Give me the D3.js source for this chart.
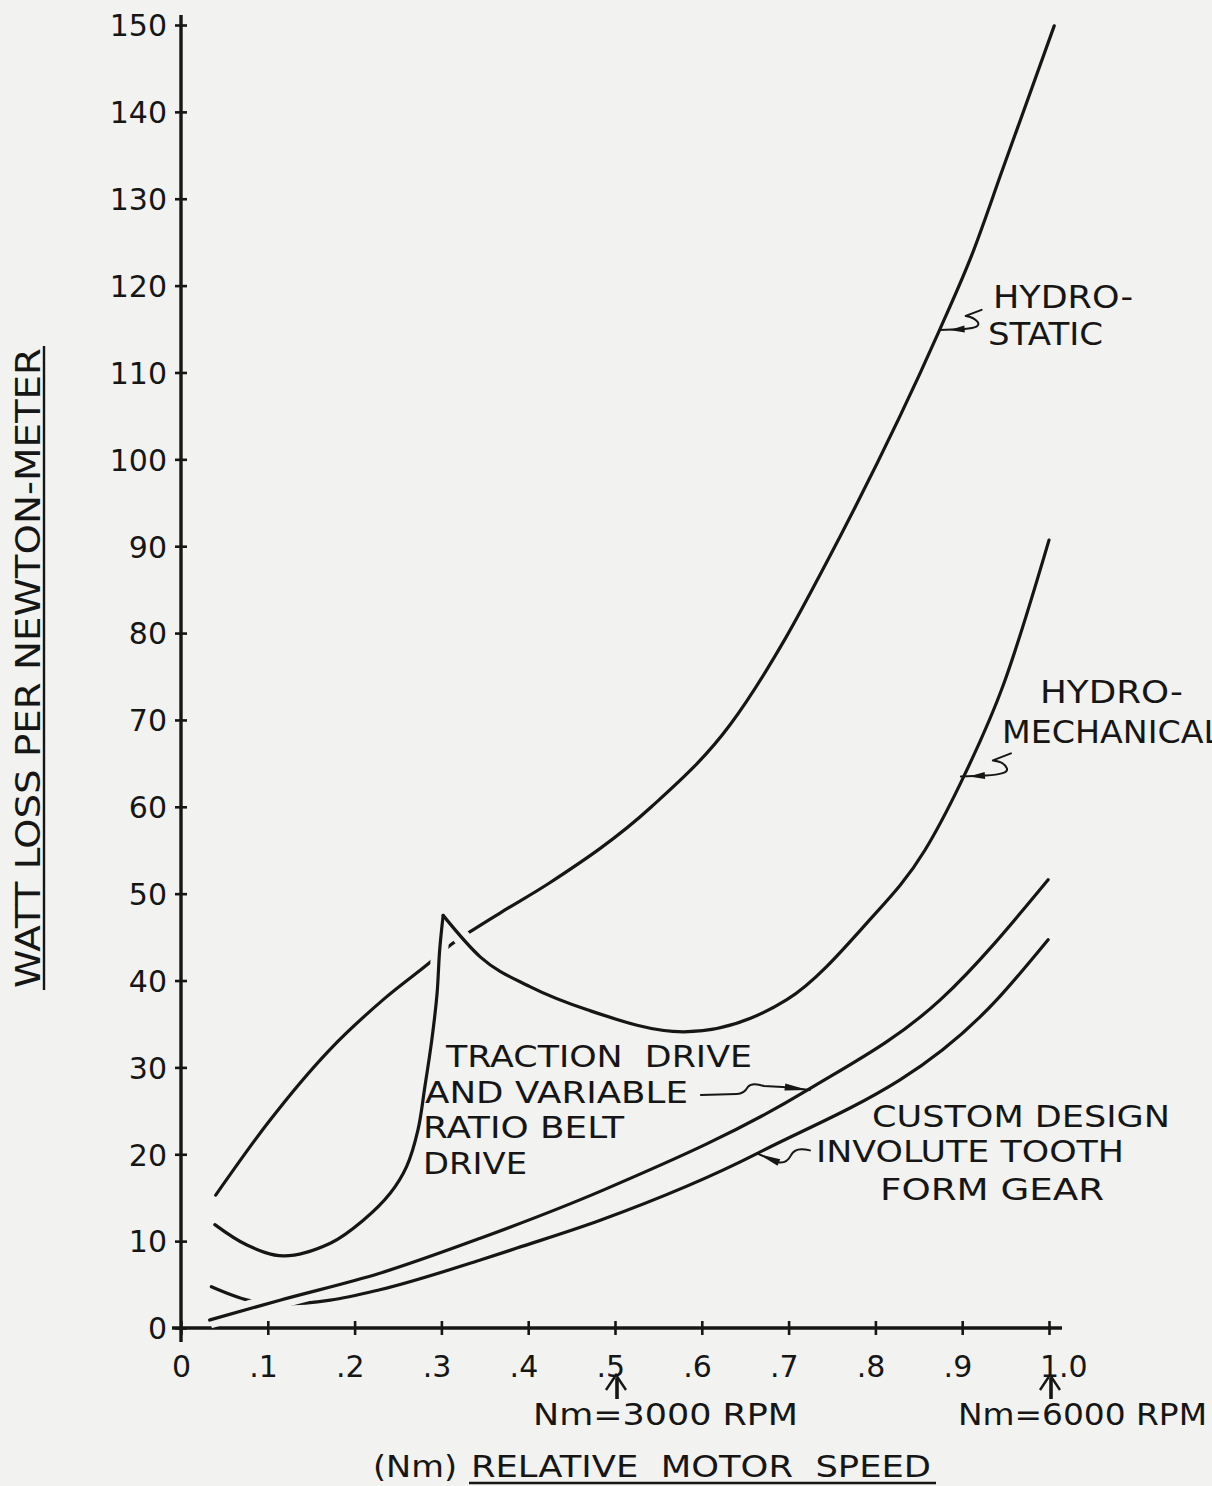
<!DOCTYPE html>
<html><head><meta charset="utf-8">
<script src="https://cdn.jsdelivr.net/npm/d3@7"></script>
<style>
html,body{margin:0;padding:0;background:#f2f2f0;}
svg{display:block;}
text{font-family:"DejaVu Sans",sans-serif;fill:#161616;white-space:pre;}
</style></head><body>
<svg id="chart" width="1212" height="1486"></svg>
<script>
// ---------- data ----------
const yTicks = [0,10,20,30,40,50,60,70,80,90,100,110,120,130,140,150];
const xTicks = [0,0.1,0.2,0.3,0.4,0.5,0.6,0.7,0.8,0.9,1.0];
const xTickLabels = ["0",".1",".2",".3",".4",".5",".6",".7",".8",".9","1.0"];

// Hydrostatic
const hydrostaticX = [0.040,0.100,0.171,0.233,0.287,0.312,0.336,0.368,0.424,0.542,0.633,0.697,0.742,0.874,0.911,0.947,1.006];
const hydrostaticY = [15.3,23.6,32.0,37.8,42.1,44.2,45.8,47.8,51.2,60.0,69.5,79.5,87.8,114.9,123.5,133.5,149.9];

// Hydro-mechanical: low-speed branch (up to the mode shift) and high-speed branch
const hydroMechLowX = [0.039,0.076,0.118,0.172,0.210,0.241,0.260,0.273,0.281,0.289,0.295,0.298,0.302];
const hydroMechLowY = [11.9,9.55,8.3,9.75,12.4,15.5,18.6,22.8,27.8,33.2,38.5,43.5,47.5];
const hydroMechHighX = [0.302,0.345,0.402,0.469,0.579,0.698,0.789,0.857,0.898,0.948,1.000];
const hydroMechHighY = [47.5,42.7,39.3,36.6,34.1,37.8,46.5,55.0,62.7,74.2,90.7];

// Traction drive and variable ratio belt drive
const tractionX = [0.033,0.114,0.229,0.344,0.487,0.722,0.875,0.999];
const tractionY = [0.92,3.2,6.3,10.3,15.9,27.4,37.8,51.6];

// Custom design involute tooth form gear
const gearX = [0.035,0.085,0.118,0.172,0.229,0.344,0.387,0.483,0.664,0.940,0.999];
const gearY = [4.75,3.03,2.76,3.2,4.4,7.8,9.2,12.4,20.1,37.8,44.7];

// ---------- chart ----------
const ink = "#161616", bg = "#f2f2f0";
const svg = d3.select("#chart");
const X0 = 181, X1 = 1049, Y0 = 1328, Y1 = 25;
const x = d3.scaleLinear().domain([0,1]).range([X0,X1]);
const y = d3.scaleLinear().domain([0,150]).range([Y0,Y1]);

// axis lines
svg.append("line").attr("x1",X0).attr("x2",X0).attr("y1",15).attr("y2",1342)
  .attr("stroke",ink).attr("stroke-width",3.4);
svg.append("line").attr("x1",172).attr("x2",1062).attr("y1",Y0).attr("y2",Y0)
  .attr("stroke",ink).attr("stroke-width",3.4);

// y axis
const gy = svg.append("g").attr("transform",`translate(${X0},0)`)
  .call(d3.axisLeft(y).tickValues(yTicks).tickSize(5).tickFormat(d3.format("d")));
gy.select(".domain").remove();
gy.selectAll(".tick line").attr("x1",-6).attr("x2",6).attr("stroke",ink).attr("stroke-width",2.6);
gy.selectAll(".tick text").attr("font-size",30).attr("font-family","DejaVu Sans")
  .attr("fill",ink).attr("x",-14).attr("dy","0.36em");

// x axis
const gx = svg.append("g").attr("transform",`translate(0,${Y0})`)
  .call(d3.axisBottom(x).tickValues(xTicks).tickSize(6).tickFormat((d,i)=>xTickLabels[i]));
gx.select(".domain").remove();
gx.selectAll(".tick line").attr("y1",-7).attr("y2",7).attr("stroke",ink).attr("stroke-width",2.6);
gx.selectAll(".tick text").attr("font-size",30).attr("font-family","DejaVu Sans")
  .attr("fill",ink).attr("y",49).attr("dy",0).attr("text-anchor","start")
  .each(function(d,i){
    const s = xTickLabels[i];
    const k = s.search(/[0-9]/);
    const pre = k>0 ? this.getSubStringLength(0,k) : 0;
    const w = this.getSubStringLength(k,1);
    d3.select(this).attr("x", -pre - w/2);
  });

// curves
const smooth = d3.line().x(d=>x(d[0])).y(d=>y(d[1])).curve(d3.curveMonotoneX);
const sharp = d3.line().x(d=>x(d[0])).y(d=>y(d[1])).curve(d3.curveCatmullRom.alpha(0.5));
const pts = (xs,ys)=>xs.map((v,i)=>[v,ys[i]]);
const plain = [[pts(hydrostaticX,hydrostaticY),smooth], [pts(gearX,gearY),smooth]];
const haloed = [[pts(hydroMechLowX,hydroMechLowY),sharp], [pts(hydroMechHighX,hydroMechHighY),smooth], [pts(tractionX,tractionY),smooth]];
plain.forEach(([p,gen])=>svg.append("path").attr("d",gen(p)).attr("fill","none")
  .attr("stroke",ink).attr("stroke-width",3.2).attr("stroke-linecap","round"));
haloed.forEach(([p,gen])=>svg.append("path").attr("d",gen(p)).attr("fill","none")
  .attr("stroke",bg).attr("stroke-width",17).attr("stroke-linecap","butt"));
haloed.forEach(([p,gen])=>svg.append("path").attr("d",gen(p)).attr("fill","none")
  .attr("stroke",ink).attr("stroke-width",3.2).attr("stroke-linecap","round"));

// labels
function label(t, lx, ly, len, size){
  svg.append("text").attr("x",lx).attr("y",ly).attr("font-size",size||31.5)
    .attr("textLength",len).attr("lengthAdjust","spacingAndGlyphs").text(t);
}
const labels = [
  ["HYDRO-",993,308,140,31.5],["STATIC",988,345,115,31.5],
  ["HYDRO-",1040,703,143,31.5],["MECHANICAL",1002,743,220,31.5],
  ["TRACTION  DRIVE",446,1067,306,30],["AND VARIABLE",425,1103,263,30],
  ["RATIO BELT",423,1138,201,30],["DRIVE",423,1174,104,30],
  ["CUSTOM DESIGN",872,1127,298,31],["INVOLUTE TOOTH",816,1162,308,31],["FORM GEAR",880,1200,224,31]
];
labels.forEach(l=>label(l[0],l[1],l[2],l[3],l[4]));

// leaders (arrows pointing at curves)
function leader(ax, ay, d, wedge){
  const px = x(ax), py = y(ay);
  const g = svg.append("g").attr("transform",`translate(${px},${py})`);
  g.append("path").attr("d",d).attr("fill","none").attr("stroke",ink).attr("stroke-width",2)
    .attr("stroke-linecap","round").attr("stroke-linejoin","round");
  const [tx,ty,bx,by] = wedge;
  const ang = Math.atan2(by-ty,bx-tx), nx = -Math.sin(ang)*3.5, ny = Math.cos(ang)*3.5;
  g.append("path").attr("d",`M${tx},${ty}L${bx+nx},${by+ny}L${bx-nx},${by-ny}Z`).attr("fill",ink);
}
leader(0.874,114.9,"M0,0 L25,-1 Q42,-2 38,-8 Q34,-13 26,-14 L42,-20",[10,0,25,-1]);
leader(0.8985,63.5,"M0,0 L25,-1 Q48,-2 46,-8 Q43,-15 32,-16 L50,-23",[8,0,24,-1]);
leader(0.7245,27.4,"M-109,5 L-73,4 Q-66,4 -62,-3 Q-58,-8 -46,-4 L-27,-3 L0,0",[-2,0,-25,-3]);
leader(0.6635,20.1,"M53,-3 Q38,-7 34,2 Q30,10 22,9 L0,0",[2,1,22,9]);

// axis titles
svg.append("text").attr("transform","translate(40,668) rotate(-90)")
  .attr("text-anchor","middle").attr("font-size",34)
  .attr("textLength",640).attr("lengthAdjust","spacingAndGlyphs")
  .text("WATT LOSS PER NEWTON-METER");
svg.append("line").attr("x1",44).attr("x2",44).attr("y1",346).attr("y2",990)
  .attr("stroke",ink).attr("stroke-width",2.4);

label("(Nm)",373,1477,84,30);
label("RELATIVE  MOTOR  SPEED",471,1477,460,30);
svg.append("line").attr("x1",469).attr("x2",936).attr("y1",1483).attr("y2",1483)
  .attr("stroke",ink).attr("stroke-width",2.6);

label("Nm=3000 RPM",533,1425,265,30);
label("Nm=6000 RPM",958,1425,249,30);

// speed markers under the axis
[0.5,1.0].forEach(v=>{
  const ax = x(v)+1;
  svg.append("path").attr("d",`M${ax-10},1390 L${ax},1375 L${ax+10},1390`)
    .attr("fill","none").attr("stroke",ink).attr("stroke-width",2.4);
  svg.append("line").attr("x1",ax+1).attr("x2",ax+1).attr("y1",1378).attr("y2",1399)
    .attr("stroke",ink).attr("stroke-width",3.6);
});
</script>
</body></html>
